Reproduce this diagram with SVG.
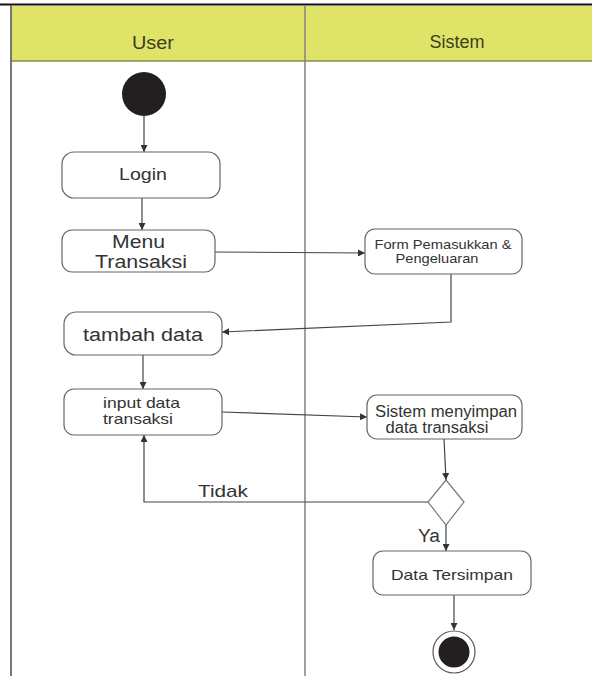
<svg xmlns="http://www.w3.org/2000/svg" width="592" height="676" viewBox="0 0 592 676">
<defs>
<style>
.lane{stroke:#555;stroke-width:1.6;fill:none}
.hdr{fill:#dfe468}
.htxt{font-family:"Liberation Sans",Arial,sans-serif;font-size:18px;fill:#3d3d22;text-anchor:middle}
.box{fill:#fff;stroke:#666;stroke-width:1.2}
.txt{font-family:"Liberation Sans",Arial,sans-serif;fill:#333;text-anchor:middle}
.edge{stroke:#444;stroke-width:1.2;fill:none}
.lbl{font-family:"Liberation Sans",Arial,sans-serif;fill:#333}
</style>
<marker id="ah" viewBox="0 0 10 10" refX="10" refY="5" markerWidth="7" markerHeight="7" orient="auto" markerUnits="userSpaceOnUse">
<path d="M0,0 L10,5 L0,10 z" fill="#333"/>
</marker>
</defs>
<rect width="592" height="676" fill="#fff"/>
<g id="swimlanes">
<rect class="hdr" x="11" y="6" width="581" height="55"/>
<line x1="11" y1="61" x2="592" y2="61" stroke="#8a8a50" stroke-width="1.5"/>
<line x1="0" y1="4.5" x2="592" y2="4.5" stroke="#111" stroke-width="2"/>
<line class="lane" x1="11" y1="5" x2="11" y2="676"/>
<line x1="305" y1="5" x2="305" y2="676" stroke="#888" stroke-width="1.6"/>
<text class="htxt" x="153" y="49" textLength="42" lengthAdjust="spacingAndGlyphs">User</text>
<text class="htxt" x="457" y="48" textLength="55" lengthAdjust="spacingAndGlyphs">Sistem</text>
</g>
<g id="connectors">
<line class="edge" x1="144" y1="116" x2="144" y2="152" marker-end="url(#ah)"/>
<line class="edge" x1="142" y1="198" x2="142" y2="230" marker-end="url(#ah)"/>
<line class="edge" x1="215" y1="252" x2="365" y2="253" marker-end="url(#ah)"/>
<polyline class="edge" points="451,274 451,322 222,332" marker-end="url(#ah)"/>
<line class="edge" x1="143" y1="355" x2="143" y2="389" marker-end="url(#ah)"/>
<line class="edge" x1="222" y1="412" x2="367" y2="417" marker-end="url(#ah)"/>
<line class="edge" x1="444" y1="439" x2="446" y2="480" marker-end="url(#ah)"/>
<polyline class="edge" points="428,502 144,502 144,435" marker-end="url(#ah)"/>
<line class="edge" x1="446" y1="525" x2="446" y2="551" marker-end="url(#ah)"/>
<line class="edge" x1="454" y1="595" x2="454" y2="630" marker-end="url(#ah)"/>
<text class="lbl" x="198" y="497" font-size="17" textLength="50" lengthAdjust="spacingAndGlyphs">Tidak</text>
<text class="lbl" x="418" y="542" font-size="18" textLength="22" lengthAdjust="spacingAndGlyphs">Ya</text>
</g>
<g id="start">
<circle cx="144" cy="94" r="22" fill="#231f20"/>
</g>
<g id="login">
<rect class="box" x="62" y="152" width="158" height="46" rx="12"/>
<text class="txt" x="143" y="180" font-size="16.5" textLength="48" lengthAdjust="spacingAndGlyphs">Login</text>
</g>
<g id="menu-transaksi">
<rect class="box" x="62" y="230" width="153" height="42" rx="10"/>
<text class="txt" x="138.5" y="248" font-size="17.5" textLength="53" lengthAdjust="spacingAndGlyphs">Menu</text>
<text class="txt" x="141" y="268" font-size="17.5" textLength="92" lengthAdjust="spacingAndGlyphs">Transaksi</text>
</g>
<g id="form">
<rect class="box" x="365" y="229" width="157" height="45" rx="10"/>
<text class="txt" x="443" y="249" font-size="13.5" textLength="137" lengthAdjust="spacingAndGlyphs">Form Pemasukkan &amp;</text>
<text class="txt" x="437" y="263" font-size="13.5" textLength="83" lengthAdjust="spacingAndGlyphs">Pengeluaran</text>
</g>
<g id="tambah-data">
<rect class="box" x="64" y="312" width="158" height="43" rx="12"/>
<text class="txt" x="143" y="341" font-size="18" textLength="120" lengthAdjust="spacingAndGlyphs">tambah data</text>
</g>
<g id="input-data">
<rect class="box" x="64" y="389" width="158" height="46" rx="10"/>
<text class="txt" x="141.5" y="408" font-size="14.5" textLength="77" lengthAdjust="spacingAndGlyphs">input data</text>
<text class="txt" x="138" y="424" font-size="14.5" textLength="70" lengthAdjust="spacingAndGlyphs">transaksi</text>
</g>
<g id="sistem-menyimpan">
<rect class="box" x="367" y="395" width="155" height="44" rx="10"/>
<text class="txt" x="446" y="417" font-size="16" textLength="142" lengthAdjust="spacingAndGlyphs">Sistem menyimpan</text>
<text class="txt" x="437" y="433" font-size="16" textLength="103" lengthAdjust="spacingAndGlyphs">data transaksi</text>
</g>
<g id="decision">
<polygon points="446,480 464,502 446,525 428,502" fill="#fff" stroke="#777" stroke-width="1.2"/>
</g>
<g id="data-tersimpan">
<rect class="box" x="373" y="551" width="158" height="44" rx="10"/>
<text class="txt" x="452" y="580" font-size="14.5" textLength="122" lengthAdjust="spacingAndGlyphs">Data Tersimpan</text>
</g>
<g id="end">
<circle cx="454" cy="652" r="21" fill="#fff" stroke="#555" stroke-width="1.2"/>
<circle cx="454" cy="652" r="15.5" fill="#231f20"/>
</g>
</svg>
